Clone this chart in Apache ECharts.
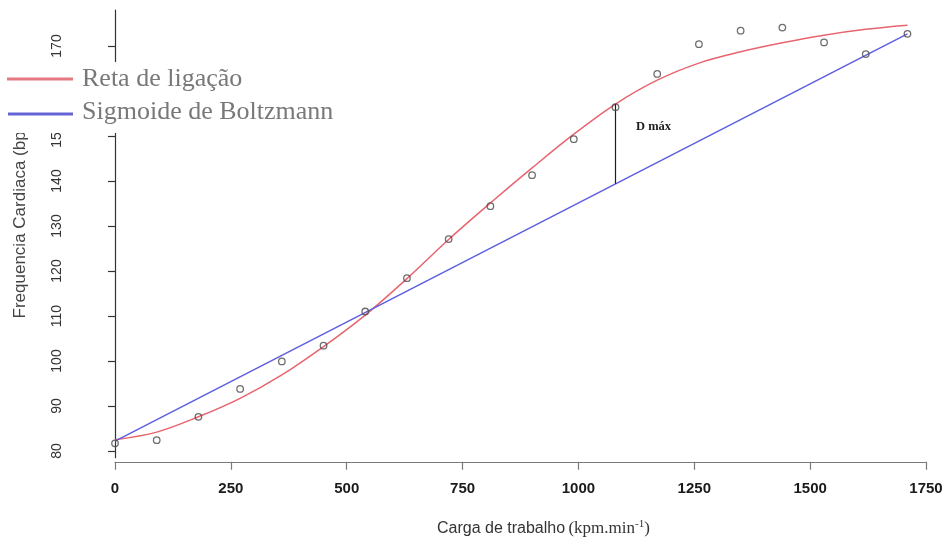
<!DOCTYPE html>
<html>
<head>
<meta charset="utf-8">
<script src="https://cdn.jsdelivr.net/npm/echarts@6/dist/echarts.min.js"></script>
<style>
  html, body { margin: 0; padding: 0; background: #ffffff; }
  #chart { width: 946px; height: 542px; }
</style>
</head>
<body>
<div id="chart"></div>
<script>
// Workload stages (kpm.min-1) and the heart rate measured at each one
const workloads = [0, 90, 180, 270, 360, 450, 540, 630, 720, 810, 900, 990, 1080, 1170, 1260, 1350, 1440, 1530, 1620, 1710];
const heartRates = [81.7, 82.4, 87.6, 93.8, 99.9, 103.4, 111.0, 118.4, 127.1, 134.4, 141.3, 149.3, 156.4, 163.8, 170.4, 173.4, 174.1, 170.8, 168.2, 172.7];

// Fitted curve values at the same workloads
const curveValues = [82.5, 84.2, 87.6, 91.7, 96.9, 103.2, 110.2, 118.3, 127.0, 135.1, 142.9, 150.4, 157.1, 162.4, 166.2, 168.7, 170.7, 172.4, 173.7, 174.6];

// Straight line joining the first and last stages
const lineWorkloads = [0, 1710];
const lineValues = [82.2, 172.7];

// Maximum distance between the two fits
const dMaxWorkload = 1080;
const dMaxValues = [157.1, 139.4];

// Axis ticks
const xTicks = [0, 250, 500, 750, 1000, 1250, 1500, 1750];
const yTicks = [80, 90, 100, 110, 120, 130, 140, 150, 160, 170];

const legendNames = ['Reta de ligação', 'Sigmoide de Boltzmann'];

const SANS = "'Liberation Sans', Arial, Helvetica, sans-serif";
const SERIF = "'Liberation Serif', 'Times New Roman', Times, serif";
const RED = '#e8646e';
const BLUE = '#5e5ee0';

const pair = (xs, ys) => xs.map((x, i) => [x, ys[i]]);

const chart = echarts.init(document.getElementById('chart'), null, { renderer: 'canvas' });

chart.setOption({
  animation: false,
  backgroundColor: '#ffffff',
  grid: { left: 115, right: 20, top: 10, bottom: 84.25, containLabel: false },
  xAxis: {
    type: 'value',
    min: xTicks[0],
    max: xTicks[xTicks.length - 1],
    interval: 250,
    offset: 4,
    axisLine: { show: true, lineStyle: { color: '#7a7a7a', width: 1.2 } },
    axisTick: { show: true, inside: false, length: 8, lineStyle: { color: '#7a7a7a', width: 1.2 } },
    axisLabel: {
      margin: 20,
      fontFamily: SANS,
      fontWeight: 'bold',
      fontSize: 15,
      color: '#1a1a1a',
      showMinLabel: true,
      showMaxLabel: true,
      formatter: v => String(v)
    },
    splitLine: { show: false }
  },
  yAxis: {
    type: 'value',
    min: 78.5,
    max: 178,
    offset: 32,
    axisLine: { show: true, lineStyle: { color: '#333333', width: 1.2 } },
    axisTick: { show: true, inside: false, length: 7, customValues: yTicks, lineStyle: { color: '#333333', width: 1.2 } },
    axisLabel: {
      customValues: yTicks,
      rotate: 90,
      margin: 19,
      fontFamily: SANS,
      fontSize: 14,
      color: '#333333',
      formatter: v => String(v)
    },
    splitLine: { show: false }
  },
  series: [
    {
      type: 'line',
      name: 'curve',
      data: pair(workloads, curveValues),
      smooth: 0.35,
      showSymbol: false,
      lineStyle: { color: RED, width: 1.5 },
      z: 2
    },
    {
      type: 'line',
      name: 'line',
      data: pair(lineWorkloads, lineValues),
      showSymbol: false,
      lineStyle: { color: BLUE, width: 1.5 },
      z: 2
    },
    {
      type: 'line',
      name: 'dmax',
      data: dMaxValues.map(v => [dMaxWorkload, v]),
      showSymbol: false,
      lineStyle: { color: '#1e1e1e', width: 1.2 },
      z: 3
    },
    {
      type: 'scatter',
      name: 'observed',
      data: pair(workloads, heartRates),
      symbol: 'circle',
      symbolSize: 6.5,
      itemStyle: { color: 'rgba(255,255,255,0)', borderColor: '#4a4a4a', borderWidth: 1.3 },
      z: 4
    }
  ],
  graphic: [
    {
      type: 'text',
      z: 1,
      x: 20,
      y: 215,
      rotation: Math.PI / 2,
      style: {
        text: 'Frequencia Cardiaca (bpm)',
        font: '17px ' + SANS,
        fill: '#444444',
        align: 'center',
        verticalAlign: 'middle'
      }
    },
    {
      type: 'text',
      z: 1,
      x: 437,
      y: 529,
      style: {
        text: '{a|Carga de trabalho} {b|(kpm.min}{s|-1}{b|)}',
        align: 'left',
        verticalAlign: 'middle',
        rich: {
          a: { fontFamily: SANS, fontSize: 16, fill: '#333333', lineHeight: 20 },
          b: { fontFamily: SERIF, fontSize: 17, fill: '#333333', lineHeight: 20 },
          s: { fontFamily: SERIF, fontSize: 11, fill: '#333333', lineHeight: 12, verticalAlign: 'top' }
        }
      }
    },
    {
      type: 'text',
      z: 10,
      x: 636,
      y: 127,
      style: {
        text: 'D máx',
        font: 'bold 12.5px ' + SERIF,
        fill: '#1e1e1e',
        align: 'left',
        verticalAlign: 'middle'
      }
    },
    // legend block
    {
      type: 'rect',
      z: 100,
      shape: { x: 0, y: 62, width: 350, height: 71 },
      style: { fill: '#ffffff' }
    },
    {
      type: 'line',
      z: 101,
      shape: { x1: 7, y1: 79, x2: 73, y2: 79 },
      style: { stroke: '#e57982', lineWidth: 3 }
    },
    {
      type: 'line',
      z: 101,
      shape: { x1: 8, y1: 114, x2: 73, y2: 114 },
      style: { stroke: '#6464d4', lineWidth: 3 }
    },
    {
      type: 'text',
      z: 101,
      x: 82,
      y: 79,
      style: {
        text: legendNames[0],
        font: '26px ' + SERIF,
        fill: '#787878',
        align: 'left',
        verticalAlign: 'middle'
      }
    },
    {
      type: 'text',
      z: 101,
      x: 82,
      y: 112,
      style: {
        text: legendNames[1],
        font: '26px ' + SERIF,
        fill: '#787878',
        align: 'left',
        verticalAlign: 'middle'
      }
    }
  ]
});
</script>
</body>
</html>
